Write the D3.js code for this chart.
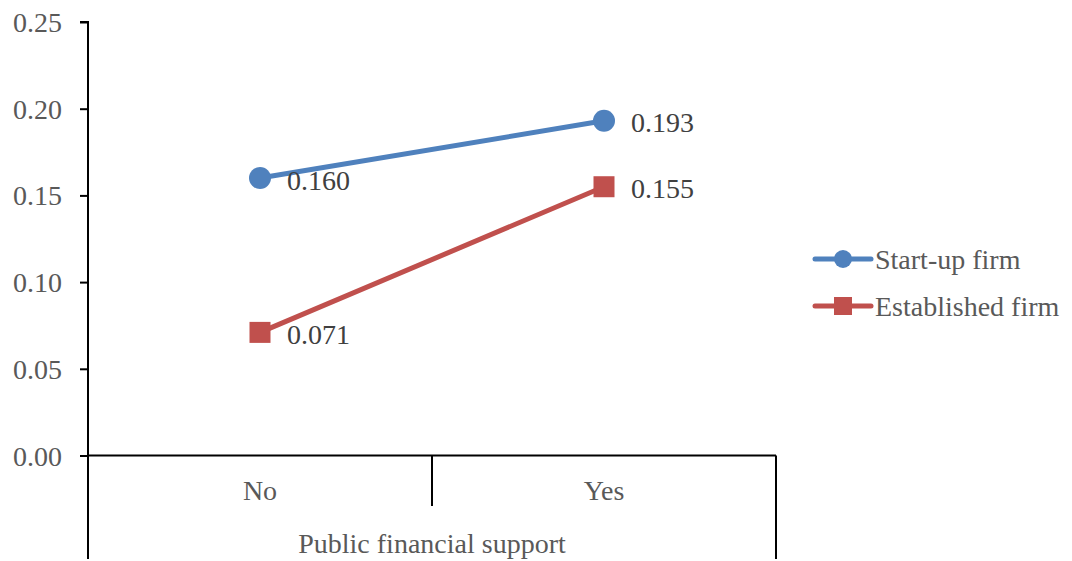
<!DOCTYPE html>
<html>
<head>
<meta charset="utf-8">
<script src="https://cdn.jsdelivr.net/npm/d3@7"></script>
<style>
  html, body { margin: 0; padding: 0; background: #fff; }
  svg { display: block; }
</style>
</head>
<body>
<svg id="chart" width="1072" height="561"></svg>
<script>
// Data
const categories = ["No", "Yes"];
const seriesNames = ["Start-up firm", "Established firm"];
const startupValues = [0.160, 0.193];
const establishedValues = [0.071, 0.155];
const yTicks = [0, 0.05, 0.10, 0.15, 0.20, 0.25];
const axisTitle = "Public financial support";

const FONT = "Liberation Serif, DejaVu Serif, serif";
const FSIZE = 28;
const colors = ["#4F81BD", "#C0504D"];
const series = [
  { name: seriesNames[0], values: startupValues, color: colors[0], shape: "circle" },
  { name: seriesNames[1], values: establishedValues, color: colors[1], shape: "square" }
];

const svg = d3.select("#chart").attr("font-family", FONT);
const plot = { left: 88, right: 776, top: 22, bottom: 455.5 };

const x = d3.scaleBand().domain(categories).range([plot.left, plot.right]).padding(0);
const y = d3.scaleLinear().domain([0, 0.25]).range([plot.bottom, plot.top]);

const fmt = d3.format(".2f");

// Y axis
const yAxis = svg.append("g")
  .attr("transform", `translate(${plot.left},0)`)
  .call(d3.axisLeft(y).tickValues(yTicks).tickFormat(fmt).tickSize(8).tickPadding(18));
yAxis.attr("font-family", FONT).attr("font-size", FSIZE);
yAxis.select(".domain").attr("stroke", "#000").attr("stroke-width", 2)
  .attr("d", `M-8,${plot.top}H0V${plot.bottom}`);
yAxis.selectAll(".tick line").attr("stroke", "#000").attr("stroke-width", 2);
yAxis.selectAll(".tick text")
  .attr("fill", "#595959")
  .attr("dy", "0.34em");

// X axis baseline and category dividers
const gx = svg.append("g").attr("font-family", FONT).attr("font-size", FSIZE);
gx.append("line")
  .attr("x1", plot.left).attr("x2", plot.right)
  .attr("y1", y(0)).attr("y2", y(0))
  .attr("stroke", "#000").attr("stroke-width", 2);
// outer edges extend down past the category row to frame the title
[plot.left, plot.right].forEach(px => {
  gx.append("line")
    .attr("x1", px).attr("x2", px)
    .attr("y1", y(0)).attr("y2", 559)
    .attr("stroke", "#000").attr("stroke-width", 2);
});
// inner divider between categories
categories.slice(1).forEach(c => {
  gx.append("line")
    .attr("x1", x(c)).attr("x2", x(c))
    .attr("y1", y(0)).attr("y2", 506)
    .attr("stroke", "#000").attr("stroke-width", 2);
});
gx.selectAll("text.cat")
  .data(categories)
  .join("text")
  .attr("class", "cat")
  .attr("x", d => x(d) + x.bandwidth() / 2)
  .attr("y", 490)
  .attr("dy", "0.34em")
  .attr("text-anchor", "middle")
  .attr("fill", "#595959")
  .text(d => d);
gx.append("text")
  .attr("x", (plot.left + plot.right) / 2)
  .attr("y", 543)
  .attr("dy", "0.34em")
  .attr("text-anchor", "middle")
  .attr("fill", "#595959")
  .text(axisTitle);

// Lines, markers and value labels
const cx = d => x(d) + x.bandwidth() / 2;
const line = d3.line().x((v, i) => cx(categories[i])).y(v => y(v));

series.forEach(s => {
  const g = svg.append("g").attr("font-family", FONT).attr("font-size", FSIZE);
  g.append("path")
    .attr("d", line(s.values))
    .attr("fill", "none")
    .attr("stroke", s.color)
    .attr("stroke-width", 5)
    .attr("stroke-linecap", "round");
  s.values.forEach((v, i) => {
    const px = cx(categories[i]), py = y(v);
    if (s.shape === "circle") {
      g.append("circle").attr("cx", px).attr("cy", py).attr("r", 11).attr("fill", s.color);
    } else {
      g.append("rect").attr("x", px - 10.5).attr("y", py - 10.5)
        .attr("width", 21).attr("height", 21).attr("fill", s.color);
    }
    g.append("text")
      .attr("x", px + 27)
      .attr("y", py + 2)
      .attr("dy", "0.34em")
      .attr("fill", "#404040")
      .text(d3.format(".3f")(v));
  });
});

// Legend
const legend = svg.append("g").attr("font-family", FONT).attr("font-size", FSIZE);
series.forEach((s, i) => {
  const ly = 259 + i * 47;
  legend.append("line")
    .attr("x1", 815).attr("x2", 871).attr("y1", ly).attr("y2", ly)
    .attr("stroke", s.color).attr("stroke-width", 5).attr("stroke-linecap", "round");
  if (s.shape === "circle") {
    legend.append("circle").attr("cx", 843).attr("cy", ly).attr("r", 9).attr("fill", s.color);
  } else {
    legend.append("rect").attr("x", 834).attr("y", ly - 9)
      .attr("width", 18).attr("height", 18).attr("fill", s.color);
  }
  legend.append("text")
    .attr("x", 875).attr("y", ly)
    .attr("dy", "0.34em")
    .attr("fill", "#595959")
    .text(s.name);
});
</script>
</body>
</html>
